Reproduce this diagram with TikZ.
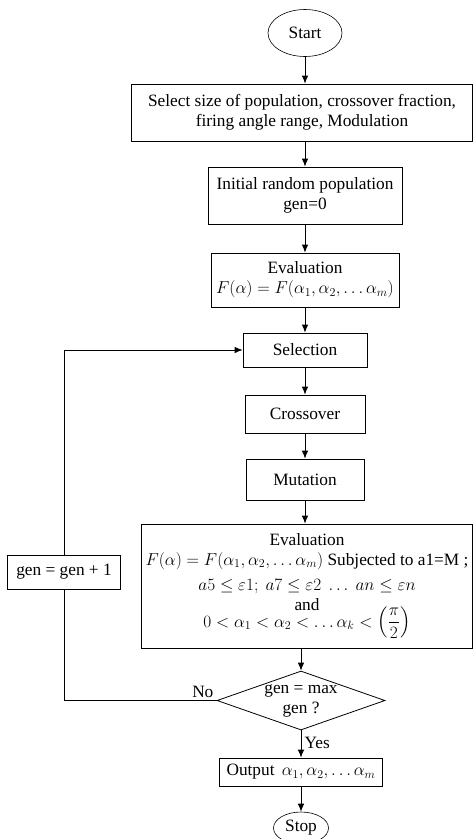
\documentclass[tikz,border=0pt]{standalone}
\usepackage{amsmath}
\usepackage{fontspec}
\setmainfont{Liberation Serif}
\usetikzlibrary{shapes.geometric, arrows.meta}

\begin{document}
\begin{tikzpicture}[x=1pt, y=-1pt]
\tikzstyle{mybox} = [draw, rectangle, align=center, inner sep=0pt, line width=0.8pt]
\tikzstyle{myoval} = [draw, ellipse, inner sep=0pt, line width=0.6pt]
\tikzstyle{mydec} = [draw, diamond, inner sep=0pt, line width=0.8pt]
\tikzstyle{myarrow} = [-{Latex[length=8pt, width=6.5pt]}, line width=0.8pt]
\tikzset{every node/.style={font=\fontsize{17.3}{20}\selectfont}}
\useasboundingbox (0,0) rectangle (474,839);

\node [myoval, minimum width=74, minimum height=47] (start) at (305,33) {Start};
\node [mybox, minimum width=341, minimum height=57] (select) at (302,112.5)
  {Select size of population, crossover fraction,\\ firing angle range, Modulation};
\node [mybox, minimum width=194, minimum height=57] (init) at (305,195.5)
  {Initial random population\\ gen=0};
\node [mybox, minimum width=188, minimum height=54] (eval) at (305,280)
  {Evaluation\\ $F(\alpha) = F(\alpha_1, \alpha_2, \ldots \alpha_m)$};
\node [mybox, minimum width=124, minimum height=34] (sel) at (305,350) {Selection};
\node [mybox, minimum width=120, minimum height=38] (cross) at (305,414) {Crossover};
\node [mybox, minimum width=118, minimum height=41] (mut) at (305,479.5) {Mutation};
\node [mybox, minimum width=331, minimum height=124] (evalb) at (307,586)
  {Evaluation\\[0pt]
   $F(\alpha) = F(\alpha_1, \alpha_2, \ldots \alpha_m)$ Subjected to a1=M ;\\[5pt]
   $a5 \le \varepsilon 1;\ a7 \le \varepsilon 2\ \ldots\ an \le \varepsilon n$\\[0pt]
   and\\[-4pt]
   $0 < \alpha_1 < \alpha_2 < \ldots \alpha_k < \left(\dfrac{\pi}{2}\right)$};
\node [mydec, minimum width=168, minimum height=59,
  label={[align=center]center:{gen = max\\ gen ?}}] (dec) at (301,700.5) {};
\node [mybox, minimum width=113, minimum height=34] (gen) at (64,572) {gen = gen + 1};
\node [mybox, minimum width=163, minimum height=28] (out) at (301,772)
  {Output \,$\alpha_1, \alpha_2, \ldots \alpha_m$};
\node [myoval, minimum width=55, minimum height=32] (stop) at (301,828) {Stop};

\draw [myarrow] (start) -- (start |- select.north);
\draw [myarrow] (select.south -| init) -- (init);
\draw [myarrow] (init) -- (eval);
\draw [myarrow] (eval) -- (sel);
\draw [myarrow] (sel) -- (cross);
\draw [myarrow] (cross) -- (mut);
\draw [myarrow] (mut) -- (evalb.north -| mut);
\draw [myarrow] (evalb.south -| dec.north) -- (dec.north);
\draw [myarrow] (dec) -- (out) node [pos=0.45, right] (yes) {Yes};
\draw [myarrow] (out) -- (stop);
\draw [line width=0.8pt] (dec.west) -| (gen.south);
\draw [myarrow] (gen.north) |- (sel.west);
\node [above left, inner sep=3pt] (no) at (dec.west) {No};
\end{tikzpicture}
\end{document}
